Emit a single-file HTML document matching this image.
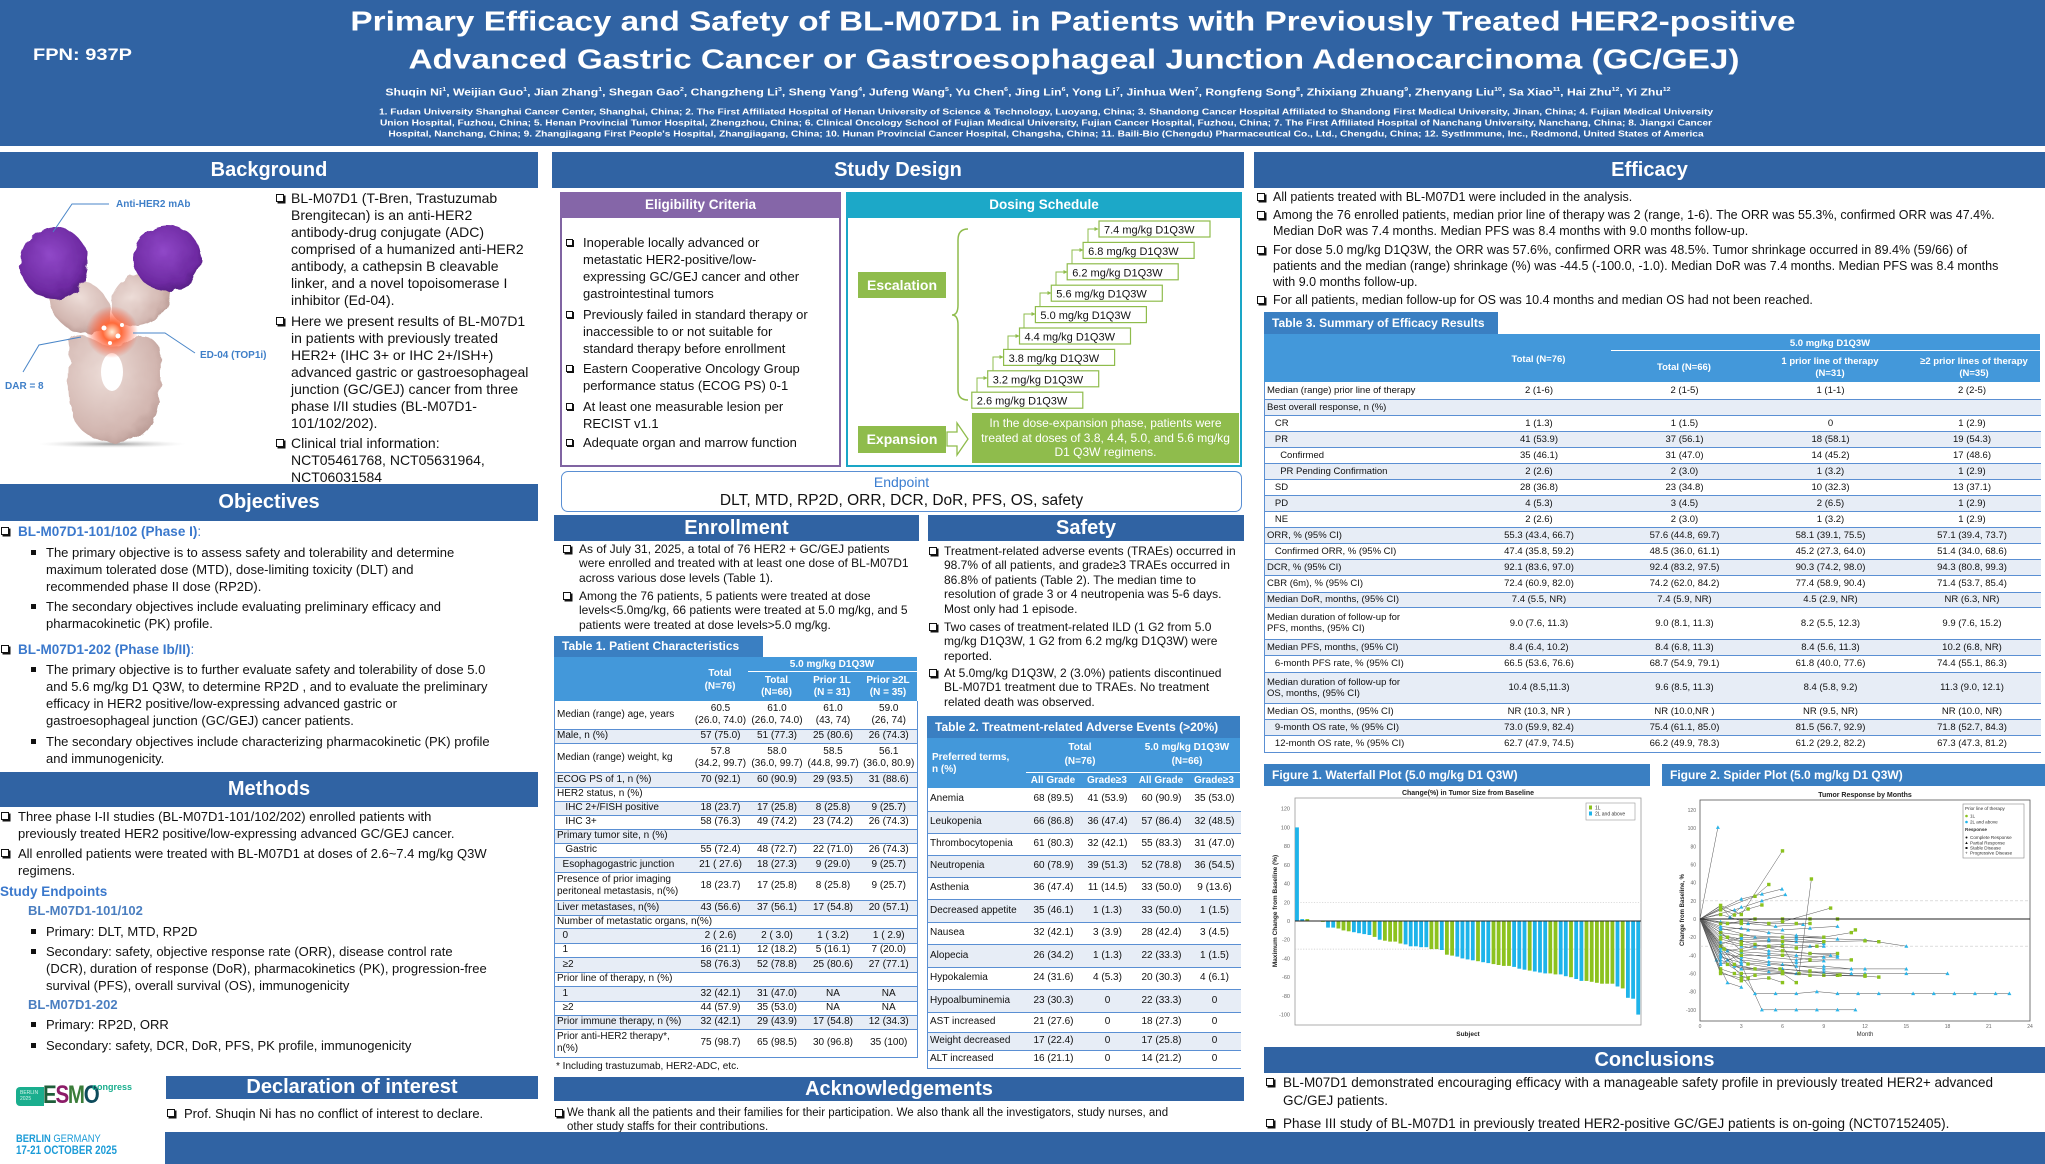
<!DOCTYPE html>
<html><head><meta charset="utf-8">
<style>
*{box-sizing:border-box}
body{margin:0;width:2045px;height:1164px;position:relative;overflow:hidden;background:#fff;font-family:"Liberation Sans",Arial,sans-serif;color:#111}
.a{position:absolute;white-space:nowrap}
.bar{position:absolute;background:#3063A3;color:#fff;font-weight:bold;font-size:20px;text-align:center;white-space:nowrap}
.bx{position:absolute;width:8px;height:8px;border:1.3px solid #111;box-shadow:1.5px 1.5px 0 #111;background:#fff}
.sq{position:absolute;width:5px;height:5px;background:#111}
.tab{position:absolute;background:#3A7FC2;color:#fff;font-weight:bold;font-size:12px;white-space:nowrap;padding-left:8px}
.th{position:absolute;background:#4398DA}
.hc{position:absolute;color:#fff;font-weight:bold;text-align:center;white-space:nowrap}
table{position:absolute;border-collapse:collapse;table-layout:fixed}
td{padding:0 2px;white-space:nowrap;border-bottom:1px solid #5A8FD3;vertical-align:middle}
tr.l td{background:#E7EDF6}
td.c{text-align:center}
.t1 td,.t2 td{font-size:10px;line-height:12px}
.t3 td{font-size:9.5px;line-height:11px}
.blue{color:#3A78CC;font-weight:bold}
.sy{transform:scaleY(0.84);transform-origin:50% 50%}
</style></head><body>

<!-- HEADER -->
<div class="a" style="left:0;top:0;width:2045px;height:146px;background:#3063A3"></div>
<div class="a sy" style="left:33px;top:44px;font-size:20px;line-height:22px;font-weight:bold;color:#fff">FPN: 937P</div>
<div class="a sy" style="left:173px;width:1800px;top:4px;line-height:36px;font-size:33.3px;font-weight:bold;color:#fff;text-align:center">Primary Efficacy and Safety of BL-M07D1 in Patients with Previously Treated HER2-positive</div>
<div class="a sy" style="left:174px;width:1800px;top:42px;line-height:36px;font-size:33.3px;font-weight:bold;color:#fff;text-align:center">Advanced Gastric Cancer or Gastroesophageal Junction Adenocarcinoma (GC/GEJ)</div>
<div class="a sy" style="left:128px;width:1800px;top:83px;line-height:14px;font-size:12.2px;font-weight:bold;color:#fff;text-align:center">Shuqin Ni<sup style="font-size:7px">1</sup>, Weijian Guo<sup style="font-size:7px">1</sup>, Jian Zhang<sup style="font-size:7px">1</sup>, Shegan Gao<sup style="font-size:7px">2</sup>, Changzheng Li<sup style="font-size:7px">3</sup>, Sheng Yang<sup style="font-size:7px">4</sup>, Jufeng Wang<sup style="font-size:7px">5</sup>, Yu Chen<sup style="font-size:7px">6</sup>, Jing Lin<sup style="font-size:7px">6</sup>, Yong Li<sup style="font-size:7px">7</sup>, Jinhua Wen<sup style="font-size:7px">7</sup>, Rongfeng Song<sup style="font-size:7px">8</sup>, Zhixiang Zhuang<sup style="font-size:7px">9</sup>, Zhenyang Liu<sup style="font-size:7px">10</sup>, Sa Xiao<sup style="font-size:7px">11</sup>, Hai Zhu<sup style="font-size:7px">12</sup>, Yi Zhu<sup style="font-size:7px">12</sup></div>
<div class="a sy" style="left:146px;width:1800px;top:103.5px;line-height:13px;font-size:10.2px;font-weight:bold;color:#fff;text-align:center">1. Fudan University Shanghai Cancer Center, Shanghai, China; 2. The First Affiliated Hospital of Henan University of Science &amp; Technology, Luoyang, China; 3. Shandong Cancer Hospital Affiliated to Shandong First Medical University, Jinan, China; 4. Fujian Medical University<br>Union Hospital, Fuzhou, China; 5. Henan Provincial Tumor Hospital, Zhengzhou, China; 6. Clinical Oncology School of Fujian Medical University, Fujian Cancer Hospital, Fuzhou, China; 7. The First Affiliated Hospital of Nanchang University, Nanchang, China; 8. Jiangxi Cancer<br>Hospital, Nanchang, China; 9. Zhangjiagang First People's Hospital, Zhangjiagang, China; 10. Hunan Provincial Cancer Hospital, Changsha, China; 11. Baili-Bio (Chengdu) Pharmaceutical Co., Ltd., Chengdu, China; 12. SystImmune, Inc., Redmond, United States of America</div>

<!-- LEFT COLUMN -->
<div class="bar" style="left:0;top:152px;width:538px;height:36px;line-height:36px">Background</div>

<svg class="a" style="left:0;top:190px" width="272" height="262" viewBox="0 190 272 262">
<defs>
<filter id="rough" x="-20%" y="-20%" width="140%" height="140%"><feTurbulence type="fractalNoise" baseFrequency="0.09" numOctaves="2" seed="4"/><feDisplacementMap in="SourceGraphic" scale="7"/></filter>
<radialGradient id="pur" cx="0.45" cy="0.4" r="0.7"><stop offset="0" stop-color="#9048C8"/><stop offset="0.7" stop-color="#6E2AA2"/><stop offset="1" stop-color="#461670"/></radialGradient>
<radialGradient id="pnk" cx="0.4" cy="0.35" r="0.8"><stop offset="0" stop-color="#EDDDD8"/><stop offset="0.7" stop-color="#D2B6B0"/><stop offset="1" stop-color="#A98882"/></radialGradient>
<radialGradient id="glow"><stop offset="0" stop-color="#FFF0D8"/><stop offset="0.35" stop-color="#FF6A3A"/><stop offset="1" stop-color="#FF4A2A" stop-opacity="0"/></radialGradient>
<radialGradient id="shd"><stop offset="0" stop-color="#999"/><stop offset="1" stop-color="#ddd" stop-opacity="0"/></radialGradient>
</defs>
<ellipse cx="112" cy="444" rx="74" ry="4" fill="url(#shd)"/>
<g filter="url(#rough)">
<path d="M70,348 C64,328 90,336 100,343 C108,348 118,348 126,342 C140,333 162,334 160,360 C162,398 158,424 140,436 C120,446 98,444 84,432 C68,420 66,390 70,348 Z" fill="url(#pnk)"/>
<ellipse cx="80" cy="306" rx="33" ry="25" transform="rotate(35 80 306)" fill="url(#pnk)"/>
<ellipse cx="140" cy="299" rx="31" ry="25" transform="rotate(-35 140 299)" fill="url(#pnk)"/>
<ellipse cx="54" cy="263" rx="34" ry="36" fill="url(#pur)"/>
<ellipse cx="167" cy="258" rx="34" ry="33" fill="url(#pur)"/>
</g>
<ellipse cx="112" cy="372" rx="11" ry="19" fill="#fff"/>
<circle cx="112" cy="332" r="26" fill="url(#glow)"/>
<circle cx="104" cy="328" r="2.5" fill="#fff"/><circle cx="118" cy="336" r="2.5" fill="#fff"/><circle cx="110" cy="343" r="2" fill="#fff"/><circle cx="122" cy="325" r="2" fill="#fff"/>
<g stroke="#4A86C8" stroke-width="1" fill="none">
<polyline points="109,204 72,204 53,232"/>
<polyline points="133,333 165,333 195,353"/>
<polyline points="23,372 39,345 81,337"/>
</g>
<g font-family="Liberation Sans, Arial, sans-serif" font-weight="bold" font-size="10" fill="#3F7FC8">
<text x="116" y="207">Anti-HER2 mAb</text>
<text x="200" y="358">ED-04 (TOP1i)</text>
<text x="5" y="389">DAR = 8</text>
</g>
</svg>

<i class="bx" style="left:276px;top:194px"></i>
<div class="a" style="left:291px;top:189.5px;font-size:14px;line-height:17px">BL-M07D1 (T-Bren, Trastuzumab<br>Brengitecan) is an anti-HER2<br>antibody-drug conjugate (ADC)<br>comprised of a humanized anti-HER2<br>antibody, a cathepsin B cleavable<br>linker, and a novel topoisomerase I<br>inhibitor (Ed-04).</div>
<i class="bx" style="left:276px;top:317px"></i>
<div class="a" style="left:291px;top:312.5px;font-size:14px;line-height:17px">Here we present results of BL-M07D1<br>in patients with previously treated<br>HER2+ (IHC 3+ or IHC 2+/ISH+)<br>advanced gastric or gastroesophageal<br>junction (GC/GEJ) cancer from three<br>phase I/II studies (BL-M07D1-<br>101/102/202).</div>
<i class="bx" style="left:276px;top:439px"></i>
<div class="a" style="left:291px;top:434.5px;font-size:14px;line-height:17px">Clinical trial information:<br>NCT05461768, NCT05631964,<br>NCT06031584</div>

<div class="bar" style="left:0;top:484px;width:538px;height:37px;line-height:37px">Objectives</div>
<i class="bx" style="left:1px;top:527px"></i>
<div class="a blue" style="left:18px;top:522.5px;font-size:13.5px;line-height:17px">BL-M07D1-101/102 (Phase I)<span style="font-weight:normal">:</span></div>
<i class="sq" style="left:31px;top:549.5px"></i>
<div class="a" style="left:46px;top:543.5px;font-size:13px;line-height:17px">The primary objective is to assess safety and tolerability and determine<br>maximum tolerated dose (MTD), dose-limiting toxicity (DLT) and<br>recommended phase II dose (RP2D).</div>
<i class="sq" style="left:31px;top:603.5px"></i>
<div class="a" style="left:46px;top:597.5px;font-size:13px;line-height:17px">The secondary objectives include evaluating preliminary efficacy and<br>pharmacokinetic (PK) profile.</div>
<i class="bx" style="left:1px;top:645px"></i>
<div class="a blue" style="left:18px;top:640.5px;font-size:13.5px;line-height:17px">BL-M07D1-202 (Phase Ib/II)<span style="font-weight:normal">:</span></div>
<i class="sq" style="left:31px;top:666.5px"></i>
<div class="a" style="left:46px;top:660.5px;font-size:13px;line-height:17px">The primary objective is to further evaluate safety and tolerability of dose 5.0<br>and 5.6 mg/kg D1 Q3W, to determine RP2D , and to evaluate the preliminary<br>efficacy in HER2 positive/low-expressing advanced gastric or<br>gastroesophageal junction (GC/GEJ) cancer patients.</div>
<i class="sq" style="left:31px;top:738.5px"></i>
<div class="a" style="left:46px;top:732.5px;font-size:13px;line-height:17px">The secondary objectives include characterizing pharmacokinetic (PK) profile<br>and immunogenicity.</div>

<div class="bar" style="left:0;top:772px;width:538px;height:35px;line-height:35px">Methods</div>
<i class="bx" style="left:1px;top:812px"></i>
<div class="a" style="left:18px;top:807.5px;font-size:13px;line-height:17px">Three phase I-II studies (BL-M07D1-101/102/202) enrolled patients with<br>previously treated HER2 positive/low-expressing advanced GC/GEJ cancer.</div>
<i class="bx" style="left:1px;top:849px"></i>
<div class="a" style="left:18px;top:844.5px;font-size:13px;line-height:17px">All enrolled patients were treated with BL-M07D1 at doses of 2.6~7.4 mg/kg Q3W<br>regimens.</div>
<div class="a blue" style="left:0;top:882.5px;font-size:13.5px;line-height:17px">Study Endpoints</div>
<div class="a" style="left:28px;top:901.5px;font-size:13px;line-height:17px;font-weight:bold;color:#4A7EC0">BL-M07D1-101/102</div>
<i class="sq" style="left:31px;top:928.5px"></i>
<div class="a" style="left:46px;top:922.5px;font-size:13px;line-height:17px">Primary: DLT, MTD, RP2D</div>
<i class="sq" style="left:31px;top:948.5px"></i>
<div class="a" style="left:46px;top:942.5px;font-size:13px;line-height:17px">Secondary: safety, objective response rate (ORR), disease control rate<br>(DCR), duration of response (DoR), pharmacokinetics (PK), progression-free<br>survival (PFS), overall survival (OS), immunogenicity</div>
<div class="a" style="left:28px;top:995.5px;font-size:13px;line-height:17px;font-weight:bold;color:#4A7EC0">BL-M07D1-202</div>
<i class="sq" style="left:31px;top:1021.5px"></i>
<div class="a" style="left:46px;top:1015.5px;font-size:13px;line-height:17px">Primary: RP2D, ORR</div>
<i class="sq" style="left:31px;top:1042.5px"></i>
<div class="a" style="left:46px;top:1036.5px;font-size:13px;line-height:17px">Secondary: safety, DCR, DoR, PFS, PK profile, immunogenicity</div>

<!-- ESMO logo -->
<div class="a" style="left:16px;top:1087px;width:28px;height:19px;background:#1AAE8E;border-radius:4px 0 0 4px;color:#d8f4ec;font-size:5px;line-height:6px;padding:3px 0 0 4px">BERLIN<br>2025</div>
<div class="a" style="left:43px;top:1082px;font-size:25px;line-height:26px;font-weight:bold;letter-spacing:-1.5px;transform:scaleX(0.82);transform-origin:0 0"><span style="color:#1E5E3A">E</span><span style="color:#8C1C68">S</span><span style="color:#3B7D3A">M</span><span style="color:#0D4B5B">O</span></div>
<div class="a" style="left:92px;top:1082px;font-size:9px;line-height:10px;font-weight:bold;color:#1AAE8E">congress</div>
<div class="a" style="left:16px;top:1133px;font-size:11px;line-height:12px;color:#1B9BD7;transform:scaleX(0.85);transform-origin:0 0"><b>BERLIN</b> GERMANY</div>
<div class="a" style="left:16px;top:1145px;font-size:11.5px;line-height:12px;color:#1B9BD7;font-weight:bold;transform:scaleX(0.85);transform-origin:0 0">17-21 OCTOBER 2025</div>

<div class="bar" style="left:166px;top:1076px;width:372px;height:23px;line-height:23px">Declaration of interest</div>
<i class="bx" style="left:167px;top:1109px"></i>
<div class="a" style="left:184px;top:1104.5px;font-size:13px;line-height:17px">Prof. Shuqin Ni has no conflict of interest to declare.</div>

<!-- MIDDLE COLUMN -->
<div class="bar" style="left:552px;top:152px;width:692px;height:36px;line-height:36px">Study Design</div>
<div class="a" style="left:560px;top:192px;width:281px;height:275px;border:2px solid #8064A2"></div>
<div class="a" style="left:560px;top:192px;width:281px;height:26px;background:#8566A8;color:#fff;font-weight:bold;font-size:13.5px;line-height:26px;text-align:center">Eligibility Criteria</div>
<div class="a" style="left:846px;top:192px;width:396px;height:275px;border:2px solid #1AA6C6"></div>
<div class="a" style="left:846px;top:192px;width:396px;height:26px;background:#1CA8C8;color:#fff;font-weight:bold;font-size:13.5px;line-height:26px;text-align:center">Dosing Schedule</div>

<i class="bx" style="left:566px;top:238.5px;width:7px;height:7px;box-shadow:1px 1px 0 #111"></i>
<div class="a" style="left:583px;top:233.5px;font-size:13px;line-height:17px">Inoperable locally advanced or<br>metastatic HER2-positive/low-<br>expressing GC/GEJ cancer and other<br>gastrointestinal tumors</div>
<i class="bx" style="left:566px;top:310.5px;width:7px;height:7px;box-shadow:1px 1px 0 #111"></i>
<div class="a" style="left:583px;top:305.5px;font-size:13px;line-height:17px">Previously failed in standard therapy or<br>inaccessible to or not suitable for<br>standard therapy before enrollment</div>
<i class="bx" style="left:566px;top:364.5px;width:7px;height:7px;box-shadow:1px 1px 0 #111"></i>
<div class="a" style="left:583px;top:359.5px;font-size:13px;line-height:17px">Eastern Cooperative Oncology Group<br>performance status (ECOG PS) 0-1</div>
<i class="bx" style="left:566px;top:402.5px;width:7px;height:7px;box-shadow:1px 1px 0 #111"></i>
<div class="a" style="left:583px;top:397.5px;font-size:13px;line-height:17px">At least one measurable lesion per<br>RECIST v1.1</div>
<i class="bx" style="left:566px;top:438.5px;width:7px;height:7px;box-shadow:1px 1px 0 #111"></i>
<div class="a" style="left:583px;top:433.5px;font-size:13px;line-height:17px">Adequate organ and marrow function</div>

<div class="a" style="left:858px;top:272px;width:88px;height:26px;background:#8FBC4C;color:#fff;font-weight:bold;font-size:14px;line-height:26px;text-align:center">Escalation</div>
<div class="a" style="left:858px;top:426px;width:88px;height:27px;background:#8FBC4C;color:#fff;font-weight:bold;font-size:14px;line-height:27px;text-align:center">Expansion</div>
<div class="a" style="left:972px;top:413px;width:267px;height:50px;background:#8FBC4C;color:#fff;font-size:12px;line-height:14.5px;text-align:center;padding-top:3px">In the dose-expansion phase, patients were<br>treated at doses of 3.8, 4.4, 5.0, and 5.6 mg/kg<br>D1 Q3W regimens.</div>

<svg class="a" style="left:846px;top:192px" width="396" height="275" viewBox="846 192 396 275">
<defs><marker id="ar" markerWidth="4" markerHeight="4" refX="3.5" refY="2" orient="auto" markerUnits="userSpaceOnUse"><path d="M0,0 L4,2 L0,4Z" fill="#8FBC4C"/></marker></defs>
<path d="M968,229 Q958,229 958,240 L958,305 Q958,315 952,315 Q958,315 958,325 L958,390 Q958,400 968,400" fill="none" stroke="#8FBC4C" stroke-width="1.5"/>
<g fill="none" stroke="#8FBC4C" stroke-width="1">
<polyline points="1088,243 1088,229 1098,229" marker-end="url(#ar)"/>
<polyline points="1072,264 1072,250 1083,250" marker-end="url(#ar)"/>
<polyline points="1056,286 1056,272 1067,272" marker-end="url(#ar)"/>
<polyline points="1040,307 1040,293 1051,293" marker-end="url(#ar)"/>
<polyline points="1024,328 1024,314 1035,314" marker-end="url(#ar)"/>
<polyline points="1008,350 1008,336 1019,336" marker-end="url(#ar)"/>
<polyline points="993,371 993,357 1003,357" marker-end="url(#ar)"/>
<polyline points="977,392 977,378 987,378" marker-end="url(#ar)"/>
</g>
<g fill="#fff" stroke="#8FBC4C" stroke-width="1.2">
<rect x="1099" y="221" width="111" height="16"/>
<rect x="1083.1" y="242.4" width="111" height="16"/>
<rect x="1067.2" y="263.8" width="111" height="16"/>
<rect x="1051.3" y="285.2" width="111" height="16"/>
<rect x="1035.4" y="306.6" width="111" height="16"/>
<rect x="1019.5" y="328" width="111" height="16"/>
<rect x="1003.6" y="349.4" width="111" height="16"/>
<rect x="987.7" y="370.8" width="111" height="16"/>
<rect x="971.8" y="392.2" width="111" height="16"/>
</g>
<g font-family="Liberation Sans, Arial, sans-serif" font-size="11" fill="#111">
<text x="1104" y="233.5">7.4 mg/kg D1Q3W</text>
<text x="1088.1" y="254.9">6.8 mg/kg D1Q3W</text>
<text x="1072.2" y="276.3">6.2 mg/kg D1Q3W</text>
<text x="1056.3" y="297.7">5.6 mg/kg D1Q3W</text>
<text x="1040.4" y="319.1">5.0 mg/kg D1Q3W</text>
<text x="1024.5" y="340.5">4.4 mg/kg D1Q3W</text>
<text x="1008.6" y="361.9">3.8 mg/kg D1Q3W</text>
<text x="992.7" y="383.3">3.2 mg/kg D1Q3W</text>
<text x="976.8" y="404.7">2.6 mg/kg D1Q3W</text>
</g>
<path d="M947,432 L957,432 L957,423 L968,439 L957,455 L957,446 L947,446 Z" fill="#fff" stroke="#8FBC4C" stroke-width="1.3"/>
</svg>

<div class="a" style="left:561px;top:471px;width:681px;height:41px;border:1.5px solid #5A8FD3;border-radius:7px"></div>
<div class="a" style="left:561px;top:474px;width:681px;text-align:center;font-size:14px;line-height:16px;color:#3A7DD0">Endpoint</div>
<div class="a" style="left:561px;top:491.5px;width:681px;text-align:center;font-size:15.5px;line-height:18px">DLT, MTD, RP2D, ORR, DCR, DoR, PFS, OS, safety</div>

<div class="bar" style="left:554px;top:515px;width:365px;height:26px;line-height:26px">Enrollment</div>
<div class="bar" style="left:928px;top:515px;width:316px;height:26px;line-height:26px">Safety</div>

<i class="bx" style="left:563px;top:545px"></i>
<div class="a" style="left:579px;top:541.75px;font-size:12px;line-height:14.5px">As of July 31, 2025, a total of 76 HER2 + GC/GEJ patients<br>were enrolled and treated with at least one dose of BL-M07D1<br>across various dose levels (Table 1).</div>
<i class="bx" style="left:563px;top:592px"></i>
<div class="a" style="left:579px;top:588.75px;font-size:12px;line-height:14.5px">Among the 76 patients, 5 patients were treated at dose<br>levels&lt;5.0mg/kg, 66 patients were treated at 5.0 mg/kg, and 5<br>patients were treated at dose levels&gt;5.0 mg/kg.</div>

<i class="bx" style="left:929px;top:547px"></i>
<div class="a" style="left:944px;top:543.75px;font-size:12px;line-height:14.5px">Treatment-related adverse events (TRAEs) occurred in<br>98.7% of all patients, and grade≥3 TRAEs occurred in<br>86.8% of patients (Table 2). The median time to<br>resolution of grade 3 or 4 neutropenia was 5-6 days.<br>Most only had 1 episode.</div>
<i class="bx" style="left:929px;top:623px"></i>
<div class="a" style="left:944px;top:619.75px;font-size:12px;line-height:14.5px">Two cases of treatment-related ILD (1 G2 from 5.0<br>mg/kg D1Q3W, 1 G2 from 6.2 mg/kg D1Q3W) were<br>reported.</div>
<i class="bx" style="left:929px;top:669px"></i>
<div class="a" style="left:944px;top:665.75px;font-size:12px;line-height:14.5px">At 5.0mg/kg D1Q3W, 2 (3.0%) patients discontinued<br>BL-M07D1 treatment due to TRAEs. No treatment<br>related death was observed.</div>

<!-- TABLE 1 -->
<div class="tab" style="left:554px;top:636px;width:209px;height:21px;line-height:21px">Table 1. Patient Characteristics</div>
<div class="th" style="left:554px;top:657px;width:363px;height:44px"></div>
<div class="hc" style="left:690px;top:666.5px;width:60px;font-size:10px;line-height:13px">Total<br>(N=76)</div>
<div class="hc" style="left:752px;top:657.5px;width:160px;font-size:10px;line-height:13px">5.0 mg/kg D1Q3W</div>
<div class="a" style="left:748px;top:671px;width:169px;height:1px;background:#fff"></div>
<div class="hc" style="left:748px;top:675px;width:57px;font-size:10px;line-height:12px">Total<br>(N=66)</div>
<div class="hc" style="left:803px;top:675px;width:58px;font-size:10px;line-height:12px">Prior 1L<br>(N = 31)</div>
<div class="hc" style="left:859px;top:675px;width:58px;font-size:10px;line-height:12px">Prior ≥2L<br>(N = 35)</div>
<table class="t1" style="left:554px;top:701px;width:363px;border-left:1px solid #5A8FD3;border-right:1px solid #5A8FD3">
<colgroup><col style="width:138px"><col style="width:56px"><col style="width:57px"><col style="width:55px"><col style="width:57px"></colgroup>
<tr style="height:28px"><td>Median (range) age, years</td><td class="c">60.5<br>(26.0, 74.0)</td><td class="c">61.0<br>(26.0, 74.0)</td><td class="c">61.0<br>(43, 74)</td><td class="c">59.0<br>(26, 74)</td></tr>
<tr class="l" style="height:14px"><td>Male, n (%)</td><td class="c">57 (75.0)</td><td class="c">51 (77.3)</td><td class="c">25 (80.6)</td><td class="c">26 (74.3)</td></tr>
<tr style="height:29px"><td>Median (range) weight, kg</td><td class="c">57.8<br>(34.2, 99.7)</td><td class="c">58.0<br>(36.0, 99.7)</td><td class="c">58.5<br>(44.8, 99.7)</td><td class="c">56.1<br>(36.0, 80.9)</td></tr>
<tr class="l" style="height:15px"><td>ECOG PS of 1, n (%)</td><td class="c">70 (92.1)</td><td class="c">60 (90.9)</td><td class="c">29 (93.5)</td><td class="c">31 (88.6)</td></tr>
<tr style="height:14px"><td colspan="5">HER2 status, n (%)</td></tr>
<tr class="l" style="height:14px"><td>&nbsp;&nbsp;&nbsp;IHC 2+/FISH positive</td><td class="c">18 (23.7)</td><td class="c">17 (25.8)</td><td class="c">8 (25.8)</td><td class="c">9 (25.7)</td></tr>
<tr style="height:14px"><td>&nbsp;&nbsp;&nbsp;IHC 3+</td><td class="c">58 (76.3)</td><td class="c">49 (74.2)</td><td class="c">23 (74.2)</td><td class="c">26 (74.3)</td></tr>
<tr class="l" style="height:14px"><td colspan="5">Primary tumor site, n (%)</td></tr>
<tr style="height:14px"><td>&nbsp;&nbsp;&nbsp;Gastric</td><td class="c">55 (72.4)</td><td class="c">48 (72.7)</td><td class="c">22 (71.0)</td><td class="c">26 (74.3)</td></tr>
<tr class="l" style="height:15px"><td>&nbsp;&nbsp;Esophagogastric junction</td><td class="c">21 ( 27.6)</td><td class="c">18 (27.3)</td><td class="c">9 (29.0)</td><td class="c">9 (25.7)</td></tr>
<tr style="height:28px"><td>Presence of prior imaging<br>peritoneal metastasis, n(%)</td><td class="c">18 (23.7)</td><td class="c">17 (25.8)</td><td class="c">8 (25.8)</td><td class="c">9 (25.7)</td></tr>
<tr class="l" style="height:15px"><td>Liver metastases, n(%)</td><td class="c">43 (56.6)</td><td class="c">37 (56.1)</td><td class="c">17 (54.8)</td><td class="c">20 (57.1)</td></tr>
<tr style="height:13px"><td colspan="5">Number of metastatic organs, n(%)</td></tr>
<tr class="l" style="height:15px"><td>&nbsp;&nbsp;0</td><td class="c">2 ( 2.6)</td><td class="c">2 ( 3.0)</td><td class="c">1 ( 3.2)</td><td class="c">1 ( 2.9)</td></tr>
<tr style="height:14px"><td>&nbsp;&nbsp;1</td><td class="c">16 (21.1)</td><td class="c">12 (18.2)</td><td class="c">5 (16.1)</td><td class="c">7 (20.0)</td></tr>
<tr class="l" style="height:15px"><td>&nbsp;&nbsp;≥2</td><td class="c">58 (76.3)</td><td class="c">52 (78.8)</td><td class="c">25 (80.6)</td><td class="c">27 (77.1)</td></tr>
<tr style="height:14px"><td colspan="5">Prior line of therapy, n (%)</td></tr>
<tr class="l" style="height:15px"><td>&nbsp;&nbsp;1</td><td class="c">32 (42.1)</td><td class="c">31 (47.0)</td><td class="c">NA</td><td class="c">NA</td></tr>
<tr style="height:14px"><td>&nbsp;&nbsp;≥2</td><td class="c">44 (57.9)</td><td class="c">35 (53.0)</td><td class="c">NA</td><td class="c">NA</td></tr>
<tr class="l" style="height:14px"><td>Prior immune therapy, n (%)</td><td class="c">32 (42.1)</td><td class="c">29 (43.9)</td><td class="c">17 (54.8)</td><td class="c">12 (34.3)</td></tr>
<tr style="height:28px"><td>Prior anti-HER2 therapy*,<br>n(%)</td><td class="c">75 (98.7)</td><td class="c">65 (98.5)</td><td class="c">30 (96.8)</td><td class="c">35 (100)</td></tr>
</table>
<div class="a" style="left:556px;top:1061px;font-size:10px;line-height:12px">* Including trastuzumab, HER2-ADC, etc.</div>

<!-- TABLE 2 -->
<div class="tab" style="left:927px;top:716px;width:313px;height:22px;line-height:22px">Table 2. Treatment-related Adverse Events (&gt;20%)</div>
<div class="th" style="left:927px;top:738px;width:313px;height:50px"></div>
<div class="hc" style="left:932px;top:751.5px;font-size:10px;line-height:12.5px;text-align:left">Preferred terms,<br>n (%)</div>
<div class="hc" style="left:1026px;top:741px;width:108px;font-size:10px;line-height:14px">Total<br>(N=76)</div>
<div class="hc" style="left:1134px;top:741px;width:106px;font-size:10px;line-height:14px">5.0 mg/kg D1Q3W<br>(N=66)</div>
<div class="a" style="left:1026px;top:772px;width:214px;height:1px;background:#fff"></div>
<div class="hc" style="left:1026px;top:775px;width:54px;font-size:10px;line-height:12px">All Grade</div>
<div class="hc" style="left:1080px;top:775px;width:54px;font-size:10px;line-height:12px">Grade≥3</div>
<div class="hc" style="left:1134px;top:775px;width:54px;font-size:10px;line-height:12px">All Grade</div>
<div class="hc" style="left:1188px;top:775px;width:52px;font-size:10px;line-height:12px">Grade≥3</div>
<table class="t2" style="left:927px;top:788px;width:313px;border-left:1px solid #5A8FD3">
<colgroup><col style="width:99px"><col style="width:54px"><col style="width:54px"><col style="width:54px"><col style="width:52px"></colgroup>
<tr style="height:23px"><td>Anemia</td><td class="c">68 (89.5)</td><td class="c">41 (53.9)</td><td class="c">60 (90.9)</td><td class="c">35 (53.0)</td></tr>
<tr class="l" style="height:22px"><td>Leukopenia</td><td class="c">66 (86.8)</td><td class="c">36 (47.4)</td><td class="c">57 (86.4)</td><td class="c">32 (48.5)</td></tr>
<tr style="height:22px"><td>Thrombocytopenia</td><td class="c">61 (80.3)</td><td class="c">32 (42.1)</td><td class="c">55 (83.3)</td><td class="c">31 (47.0)</td></tr>
<tr class="l" style="height:22px"><td>Neutropenia</td><td class="c">60 (78.9)</td><td class="c">39 (51.3)</td><td class="c">52 (78.8)</td><td class="c">36 (54.5)</td></tr>
<tr style="height:22px"><td>Asthenia</td><td class="c">36 (47.4)</td><td class="c">11 (14.5)</td><td class="c">33 (50.0)</td><td class="c">9 (13.6)</td></tr>
<tr class="l" style="height:23px"><td>Decreased appetite</td><td class="c">35 (46.1)</td><td class="c">1 (1.3)</td><td class="c">33 (50.0)</td><td class="c">1 (1.5)</td></tr>
<tr style="height:22px"><td>Nausea</td><td class="c">32 (42.1)</td><td class="c">3 (3.9)</td><td class="c">28 (42.4)</td><td class="c">3 (4.5)</td></tr>
<tr class="l" style="height:23px"><td>Alopecia</td><td class="c">26 (34.2)</td><td class="c">1 (1.3)</td><td class="c">22 (33.3)</td><td class="c">1 (1.5)</td></tr>
<tr style="height:22px"><td>Hypokalemia</td><td class="c">24 (31.6)</td><td class="c">4 (5.3)</td><td class="c">20 (30.3)</td><td class="c">4 (6.1)</td></tr>
<tr class="l" style="height:23px"><td>Hypoalbuminemia</td><td class="c">23 (30.3)</td><td class="c">0</td><td class="c">22 (33.3)</td><td class="c">0</td></tr>
<tr style="height:20px"><td>AST increased</td><td class="c">21 (27.6)</td><td class="c">0</td><td class="c">18 (27.3)</td><td class="c">0</td></tr>
<tr class="l" style="height:18px"><td>Weight decreased</td><td class="c">17 (22.4)</td><td class="c">0</td><td class="c">17 (25.8)</td><td class="c">0</td></tr>
<tr style="height:18px"><td>ALT increased</td><td class="c">16 (21.1)</td><td class="c">0</td><td class="c">14 (21.2)</td><td class="c">0</td></tr>
</table>

<div class="bar" style="left:554px;top:1077px;width:690px;height:24px;line-height:24px">Acknowledgements</div>
<i class="bx" style="left:555px;top:1109px"></i>
<div class="a" style="left:567px;top:1106px;font-size:11.5px;line-height:14px">We thank all the patients and their families for their participation. We also thank all the investigators, study nurses, and<br>other study staffs for their contributions.</div>

<!-- RIGHT COLUMN -->
<div class="bar" style="left:1254px;top:152px;width:791px;height:36px;line-height:36px">Efficacy</div>
<i class="bx" style="left:1257px;top:193px"></i>
<div class="a" style="left:1273px;top:189px;font-size:12.5px;line-height:16px">All patients treated with BL-M07D1 were included in the analysis.</div>
<i class="bx" style="left:1257px;top:211px"></i>
<div class="a" style="left:1273px;top:207px;font-size:12.5px;line-height:16px">Among the 76 enrolled patients, median prior line of therapy was 2 (range, 1-6). The ORR was 55.3%, confirmed ORR was 47.4%.<br>Median DoR was 7.4 months. Median PFS was 8.4 months with 9.0 months follow-up.</div>
<i class="bx" style="left:1257px;top:246px"></i>
<div class="a" style="left:1273px;top:242px;font-size:12.5px;line-height:16px">For dose 5.0 mg/kg D1Q3W, the ORR was 57.6%, confirmed ORR was 48.5%. Tumor shrinkage occurred in 89.4% (59/66) of<br>patients and the median (range) shrinkage (%) was -44.5 (-100.0, -1.0). Median DoR was 7.4 months. Median PFS was 8.4 months<br>with 9.0 months follow-up.</div>
<i class="bx" style="left:1257px;top:296px"></i>
<div class="a" style="left:1273px;top:292px;font-size:12.5px;line-height:16px">For all patients, median follow-up for OS was 10.4 months and median OS had not been reached.</div>

<!-- TABLE 3 -->
<div class="tab" style="left:1264px;top:312px;width:234px;height:22px;line-height:22px">Table 3. Summary of Efficacy Results</div>
<div class="th" style="left:1264px;top:334px;width:776px;height:48px"></div>
<div class="hc" style="left:1466px;top:354px;width:145px;font-size:9.5px;line-height:12px">Total (N=76)</div>
<div class="hc" style="left:1611px;top:338px;width:438px;font-size:9.5px;line-height:12px">5.0 mg/kg D1Q3W</div>
<div class="a" style="left:1611px;top:350px;width:429px;height:1px;background:#fff"></div>
<div class="hc" style="left:1611px;top:362px;width:146px;font-size:9.5px;line-height:12px">Total (N=66)</div>
<div class="hc" style="left:1757px;top:356px;width:146px;font-size:9.5px;line-height:12px">1 prior line of therapy<br>(N=31)</div>
<div class="hc" style="left:1903px;top:356px;width:142px;font-size:9.5px;line-height:12px">≥2 prior lines of therapy<br>(N=35)</div>
<table class="t3" style="left:1264px;top:382px;width:776px;border-left:1px solid #5A8FD3">
<colgroup><col style="width:202px"><col style="width:145px"><col style="width:146px"><col style="width:146px"><col style="width:137px"></colgroup>
<tr style="height:17px"><td>Median (range) prior line of therapy</td><td class="c">2 (1-6)</td><td class="c">2 (1-5)</td><td class="c">1 (1-1)</td><td class="c">2 (2-5)</td></tr>
<tr class="l" style="height:16px"><td colspan="5">Best overall response, n (%)</td></tr>
<tr style="height:16px"><td>&nbsp;&nbsp;&nbsp;CR</td><td class="c">1 (1.3)</td><td class="c">1 (1.5)</td><td class="c">0</td><td class="c">1 (2.9)</td></tr>
<tr class="l" style="height:16px"><td>&nbsp;&nbsp;&nbsp;PR</td><td class="c">41 (53.9)</td><td class="c">37 (56.1)</td><td class="c">18 (58.1)</td><td class="c">19 (54.3)</td></tr>
<tr style="height:16px"><td>&nbsp;&nbsp;&nbsp;&nbsp;&nbsp;Confirmed</td><td class="c">35 (46.1)</td><td class="c">31 (47.0)</td><td class="c">14 (45.2)</td><td class="c">17 (48.6)</td></tr>
<tr class="l" style="height:16px"><td>&nbsp;&nbsp;&nbsp;&nbsp;&nbsp;PR Pending Confirmation</td><td class="c">2 (2.6)</td><td class="c">2 (3.0)</td><td class="c">1 (3.2)</td><td class="c">1 (2.9)</td></tr>
<tr style="height:16px"><td>&nbsp;&nbsp;&nbsp;SD</td><td class="c">28 (36.8)</td><td class="c">23 (34.8)</td><td class="c">10 (32.3)</td><td class="c">13 (37.1)</td></tr>
<tr class="l" style="height:16px"><td>&nbsp;&nbsp;&nbsp;PD</td><td class="c">4 (5.3)</td><td class="c">3 (4.5)</td><td class="c">2 (6.5)</td><td class="c">1 (2.9)</td></tr>
<tr style="height:16px"><td>&nbsp;&nbsp;&nbsp;NE</td><td class="c">2 (2.6)</td><td class="c">2 (3.0)</td><td class="c">1 (3.2)</td><td class="c">1 (2.9)</td></tr>
<tr class="l" style="height:16px"><td>ORR, % (95% CI)</td><td class="c">55.3 (43.4, 66.7)</td><td class="c">57.6 (44.8, 69.7)</td><td class="c">58.1 (39.1, 75.5)</td><td class="c">57.1 (39.4, 73.7)</td></tr>
<tr style="height:16px"><td>&nbsp;&nbsp;&nbsp;Confirmed ORR, % (95% CI)</td><td class="c">47.4 (35.8, 59.2)</td><td class="c">48.5 (36.0, 61.1)</td><td class="c">45.2 (27.3, 64.0)</td><td class="c">51.4 (34.0, 68.6)</td></tr>
<tr class="l" style="height:16px"><td>DCR, % (95% CI)</td><td class="c">92.1 (83.6, 97.0)</td><td class="c">92.4 (83.2, 97.5)</td><td class="c">90.3 (74.2, 98.0)</td><td class="c">94.3 (80.8, 99.3)</td></tr>
<tr style="height:17px"><td>CBR (6m), % (95% CI)</td><td class="c">72.4 (60.9, 82.0)</td><td class="c">74.2 (62.0, 84.2)</td><td class="c">77.4 (58.9, 90.4)</td><td class="c">71.4 (53.7, 85.4)</td></tr>
<tr class="l" style="height:15px"><td>Median DoR, months, (95% CI)</td><td class="c">7.4 (5.5, NR)</td><td class="c">7.4 (5.9, NR)</td><td class="c">4.5 (2.9, NR)</td><td class="c">NR (6.3, NR)</td></tr>
<tr style="height:32px"><td>Median duration of follow-up for<br>PFS, months, (95% CI)</td><td class="c">9.0 (7.6, 11.3)</td><td class="c">9.0 (8.1, 11.3)</td><td class="c">8.2 (5.5, 12.3)</td><td class="c">9.9 (7.6, 15.2)</td></tr>
<tr class="l" style="height:16px"><td>Median PFS, months, (95% CI)</td><td class="c">8.4 (6.4, 10.2)</td><td class="c">8.4 (6.8, 11.3)</td><td class="c">8.4 (5.6, 11.3)</td><td class="c">10.2 (6.8, NR)</td></tr>
<tr style="height:17px"><td>&nbsp;&nbsp;&nbsp;6-month PFS rate, % (95% CI)</td><td class="c">66.5 (53.6, 76.6)</td><td class="c">68.7 (54.9, 79.1)</td><td class="c">61.8 (40.0, 77.6)</td><td class="c">74.4 (55.1, 86.3)</td></tr>
<tr class="l" style="height:31px"><td>Median duration of follow-up for<br>OS, months, (95% CI)</td><td class="c">10.4 (8.5,11.3)</td><td class="c">9.6 (8.5, 11.3)</td><td class="c">8.4 (5.8, 9.2)</td><td class="c">11.3 (9.0, 12.1)</td></tr>
<tr style="height:16px"><td>Median OS, months, (95% CI)</td><td class="c">NR (10.3, NR )</td><td class="c">NR (10.0,NR )</td><td class="c">NR (9.5, NR)</td><td class="c">NR (10.0, NR)</td></tr>
<tr class="l" style="height:16px"><td>&nbsp;&nbsp;&nbsp;9-month OS rate, % (95% CI)</td><td class="c">73.0 (59.9, 82.4)</td><td class="c">75.4 (61.1, 85.0)</td><td class="c">81.5 (56.7, 92.9)</td><td class="c">71.8 (52.7, 84.3)</td></tr>
<tr style="height:17px"><td>&nbsp;&nbsp;&nbsp;12-month OS rate, % (95% CI)</td><td class="c">62.7 (47.9, 74.5)</td><td class="c">66.2 (49.9, 78.3)</td><td class="c">61.2 (29.2, 82.2)</td><td class="c">67.3 (47.3, 81.2)</td></tr>
</table>

<!-- FIGURES -->
<div class="tab" style="left:1264px;top:764px;width:386px;height:22px;line-height:22px">Figure 1. Waterfall Plot (5.0 mg/kg D1 Q3W)</div>
<div class="tab" style="left:1662px;top:764px;width:383px;height:22px;line-height:22px">Figure 2. Spider Plot (5.0 mg/kg D1 Q3W)</div>

<svg class="a" style="left:1255px;top:786px" width="790" height="260" viewBox="1255 786 790 260" font-family="Liberation Sans, Arial, sans-serif">
<defs>
<marker id="mb" markerWidth="4" markerHeight="4" refX="2" refY="2" markerUnits="userSpaceOnUse"><path d="M2,0 L4,3.6 L0,3.6Z" fill="#29B5EA"/></marker>
<marker id="mg" markerWidth="4" markerHeight="4" refX="2" refY="2" markerUnits="userSpaceOnUse"><rect x="0.3" y="0.3" width="3.4" height="3.4" fill="#8CC21E"/></marker>
</defs>
<!-- Waterfall -->
<text x="1468" y="795" font-size="7" font-weight="bold" text-anchor="middle" fill="#222">Change(%) in Tumor Size from Baseline</text>
<rect x="1295" y="798" width="346" height="227" fill="#fff" stroke="#999" stroke-width="0.8"/>
<g stroke="#c8c8c8" stroke-width="0.7" stroke-dasharray="1.2,1.5"><line x1="1295" y1="902.3" x2="1641" y2="902.3"/><line x1="1295" y1="949.1" x2="1641" y2="949.1"/></g>
<g font-size="5.5" fill="#666" text-anchor="end">
<text x="1290" y="810.7">120</text><text x="1290" y="829.4">100</text><text x="1290" y="848.1">80</text><text x="1290" y="866.8">60</text><text x="1290" y="885.6">40</text><text x="1290" y="904.3">20</text><text x="1290" y="923">0</text><text x="1290" y="941.7">-20</text><text x="1290" y="960.4">-40</text><text x="1290" y="979.2">-60</text><text x="1290" y="997.9">-80</text><text x="1290" y="1016.6">-100</text>
</g>
<text transform="rotate(-90 1277 911)" x="1277" y="911" font-size="6.5" font-weight="bold" text-anchor="middle" fill="#222">Maximum Change from Baseline (%)</text>
<g transform="translate(0,921)">
<g fill="#1EB4EA">
<rect x="1295.1" y="-93.6" width="3.8" height="93.6"/><rect x="1300.3" y="-1.9" width="3.8" height="1.9"/>
<rect x="1326.1" y="0" width="3.8" height="6.6"/><rect x="1331.3" y="0" width="3.8" height="6.6"/>
<rect x="1352.0" y="0" width="3.8" height="11.2"/><rect x="1357.1" y="0" width="3.8" height="12.2"/><rect x="1362.3" y="0" width="3.8" height="13.1"/><rect x="1367.5" y="0" width="3.8" height="14.0"/>
<rect x="1377.8" y="0" width="3.8" height="18.7"/>
<rect x="1403.7" y="0" width="3.8" height="23.4"/><rect x="1408.8" y="0" width="3.8" height="25.3"/><rect x="1414.0" y="0" width="3.8" height="25.3"/><rect x="1419.2" y="0" width="3.8" height="26.2"/><rect x="1424.4" y="0" width="3.8" height="26.2"/>
<rect x="1439.9" y="0" width="3.8" height="29.0"/>
<rect x="1455.4" y="0" width="3.8" height="35.6"/><rect x="1460.5" y="0" width="3.8" height="37.4"/><rect x="1465.7" y="0" width="3.8" height="38.4"/><rect x="1470.9" y="0" width="3.8" height="39.3"/>
<rect x="1481.2" y="0" width="3.8" height="41.2"/><rect x="1486.4" y="0" width="3.8" height="42.1"/>
<rect x="1512.2" y="0" width="3.8" height="45.9"/><rect x="1517.4" y="0" width="3.8" height="47.7"/><rect x="1522.6" y="0" width="3.8" height="48.7"/>
<rect x="1532.9" y="0" width="3.8" height="50.5"/><rect x="1538.1" y="0" width="3.8" height="51.5"/><rect x="1543.3" y="0" width="3.8" height="52.4"/>
<rect x="1558.8" y="0" width="3.8" height="53.4"/><rect x="1563.9" y="0" width="3.8" height="55.2"/>
<rect x="1574.3" y="0" width="3.8" height="58.0"/><rect x="1579.5" y="0" width="3.8" height="59.9"/>
<rect x="1615.6" y="0" width="3.8" height="65.5"/>
<rect x="1626.0" y="0" width="3.8" height="76.8"/><rect x="1631.2" y="0" width="3.8" height="77.7"/><rect x="1636.3" y="0" width="3.8" height="93.6"/>
</g>
<g fill="#8CC21E">
<rect x="1305.4" y="-1.9" width="3.8" height="1.9"/>
<rect x="1320.9" y="0" width="3.8" height="0.9"/>
<rect x="1336.5" y="0" width="3.8" height="7.5"/><rect x="1341.6" y="0" width="3.8" height="9.4"/><rect x="1346.8" y="0" width="3.8" height="10.3"/>
<rect x="1372.7" y="0" width="3.8" height="15.9"/>
<rect x="1383.0" y="0" width="3.8" height="19.7"/><rect x="1388.2" y="0" width="3.8" height="20.6"/><rect x="1393.3" y="0" width="3.8" height="20.6"/><rect x="1398.5" y="0" width="3.8" height="22.5"/>
<rect x="1429.5" y="0" width="3.8" height="28.1"/><rect x="1434.7" y="0" width="3.8" height="28.1"/>
<rect x="1445.0" y="0" width="3.8" height="33.7"/><rect x="1450.2" y="0" width="3.8" height="34.6"/>
<rect x="1476.1" y="0" width="3.8" height="40.2"/>
<rect x="1491.6" y="0" width="3.8" height="43.1"/><rect x="1496.7" y="0" width="3.8" height="44.0"/><rect x="1501.9" y="0" width="3.8" height="44.9"/><rect x="1507.1" y="0" width="3.8" height="44.9"/>
<rect x="1527.8" y="0" width="3.8" height="49.6"/>
<rect x="1548.4" y="0" width="3.8" height="52.4"/><rect x="1553.6" y="0" width="3.8" height="53.4"/>
<rect x="1569.1" y="0" width="3.8" height="56.2"/>
<rect x="1584.6" y="0" width="3.8" height="59.9"/><rect x="1589.8" y="0" width="3.8" height="60.8"/><rect x="1595.0" y="0" width="3.8" height="61.8"/><rect x="1600.1" y="0" width="3.8" height="62.7"/><rect x="1605.3" y="0" width="3.8" height="62.7"/><rect x="1610.5" y="0" width="3.8" height="62.7"/>
<rect x="1620.8" y="0" width="3.8" height="67.4"/>
</g>
</g>
<line x1="1295" y1="921" x2="1641" y2="921" stroke="#222" stroke-width="1"/>
<rect x="1586" y="803" width="49" height="17" fill="#fff" stroke="#999" stroke-width="0.6"/>
<rect x="1589" y="805.5" width="3" height="4" fill="#8CC21E"/><text x="1595" y="809.3" font-size="5" fill="#333">1L</text>
<rect x="1589" y="811.5" width="3" height="4" fill="#1EB4EA"/><text x="1595" y="815.3" font-size="5" fill="#333">2L and above</text>
<text x="1468" y="1036" font-size="6.5" font-weight="bold" text-anchor="middle" fill="#222">Subject</text>

<!-- Spider -->
<text x="1865" y="797" font-size="7" font-weight="bold" text-anchor="middle" fill="#222">Tumor Response by Months</text>
<rect x="1700" y="800" width="330" height="221" fill="#fff" stroke="#555" stroke-width="0.8"/>
<g stroke="#c8c8c8" stroke-width="0.7" stroke-dasharray="3,2"><line x1="1700" y1="900.8" x2="2030" y2="900.8"/><line x1="1700" y1="946.2" x2="2030" y2="946.2"/></g>
<g font-size="5" fill="#666" text-anchor="end">
<text x="1696" y="812">120</text><text x="1696" y="830.2">100</text><text x="1696" y="848.4">80</text><text x="1696" y="866.5">60</text><text x="1696" y="884.7">40</text><text x="1696" y="902.8">20</text><text x="1696" y="921">0</text><text x="1696" y="939.2">-20</text><text x="1696" y="957.3">-40</text><text x="1696" y="975.5">-60</text><text x="1696" y="993.6">-80</text><text x="1696" y="1011.8">-100</text>
</g>
<g font-size="5" fill="#666" text-anchor="middle">
<text x="1700" y="1028">0</text><text x="1741.3" y="1028">3</text><text x="1782.5" y="1028">6</text><text x="1823.8" y="1028">9</text><text x="1865" y="1028">12</text><text x="1906.3" y="1028">15</text><text x="1947.5" y="1028">18</text><text x="1988.8" y="1028">21</text><text x="2030" y="1028">24</text>
</g>
<text x="1865" y="1036" font-size="6" text-anchor="middle" fill="#333">Month</text>
<text transform="rotate(-90 1684 910)" x="1684" y="910" font-size="6" font-weight="bold" text-anchor="middle" fill="#222">Change from Baseline, %</text>
<g transform="translate(1700,919)" fill="none" stroke="#555" stroke-width="0.5">
<g marker-mid="url(#mb)" marker-end="url(#mb)">
<polyline points="0,0 17.9,-91.7"/>
<polyline points="0,0 34.4,-9.1 61.9,-18.2 85.3,-24.5"/>
<polyline points="0,0 20.6,27.2 41.3,45.4 61.9,90.8 75.6,90.8 96.3,90.8 116.9,90.8 137.5,90.8 155.4,90.8"/>
<polyline points="0,0 27.5,40.9 41.3,57.2 55,74.5 75.6,74.5 96.3,74.5 116.9,72.6 137.5,74.5 158.1,74.5 178.8,74.5 213.1,74.5 233.8,74.5 254.4,74.5 275,74.5 295.6,74.5 309.4,74.5"/>
<polyline points="0,0 20.6,36.3 41.3,49.9 82.5,49.9 123.8,54.5 165,54.5 206.3,54.5 247.5,54.5"/>
<polyline points="0,0 20.6,31.8 41.3,40.9 82.5,45.4 123.8,49.9 165,49.9 206.3,49.9"/>
<polyline points="0,0 20.6,9.1 55,18.2 96.3,18.2 137.5,20 165,20.9 206.3,27.2"/>
<polyline points="0,0 20.6,22.7 41.3,27.2 68.8,31.8 110,34.5 137.5,36.3"/>
<polyline points="0,0 20.6,40.9 41.3,49.9 68.8,52.7 96.3,54.5 123.8,52.7 151.3,54.5"/>
<polyline points="0,0 27.5,31.8 55,27.2 82.5,25.4 110,27.2 123.8,27.2"/>
<polyline points="0,0 20.6,25.4 41.3,18.2 68.8,20 96.3,22.7 123.8,24.5"/>
<polyline points="0,0 20.6,45.4 41.3,34.5 68.8,38.1 96.3,40.9 130.6,36.3"/>
<polyline points="0,0 20.6,10.9 41.3,9.1 68.8,13.6 96.3,16.3 123.8,18.2"/>
<polyline points="0,0 20.6,38.1 41.3,43.6 68.8,45.4 96.3,47.2 123.8,47.2 151.3,49.9"/>
<polyline points="0,0 20.6,7.3 48.1,10.9 82.5,10.9 110,9.1 137.5,7.3"/>
<polyline points="0,0 20.6,34.5 41.3,38.1 68.8,42.7 96.3,43.6 123.8,41.8"/>
<polyline points="0,0 20.6,2.7 48.1,4.5 75.6,7.3 103.1,5.4"/>
<polyline points="0,0 20.6,29.1 41.3,32.7 68.8,34.5 96.3,36.3 123.8,38.1 137.5,38.1"/>
<polyline points="0,0 20.6,16.3 41.3,20 68.8,21.8 96.3,20 123.8,22.7"/>
<polyline points="0,0 20.6,43.6 34.4,47.2 55,49.9 82.5,49.9"/>
<polyline points="0,0 16.5,40.9 27.5,63.6 41.3,68.1"/>
<polyline points="0,0 20.6,-13 30,-2 41.3,-12"/>
<polyline points="0,0 20.6,-10 41.3,-20 62,-25 82,-30"/>
</g>
<g marker-mid="url(#mg)" marker-end="url(#mg)">
<polyline points="0,0 20.6,-13.6 41.3,-4.5 82.5,-68.1"/>
<polyline points="0,0 20.6,-9.1 55,-22.7 68.8,-34.5"/>
<polyline points="0,0 20.6,13.6 41.3,31.8 82.5,27.2 99,54.5 111.4,-40"/>
<polyline points="0,0 20.6,4.5 41.3,4.5 82.5,2.7 130.6,-10.9"/>
<polyline points="0,0 27.5,45.4 41.3,54.5 82.5,54.5 123.8,56.3 165,57.2 178.8,58.1"/>
<polyline points="0,0 20.6,18.2 41.3,22.7 82.5,22.7 123.8,22.7 165,21.8 178.8,22.7"/>
<polyline points="0,0 20.6,27.2 41.3,36.3 82.5,36.3 110,40.9 151.3,40.9"/>
<polyline points="0,0 20.6,13.6 41.3,16.3 82.5,18.2 123.8,18.2 151.3,13.6 155.4,10.9"/>
<polyline points="0,0 27.5,4.5 55,0 82.5,0 110,0 137.5,0"/>
<polyline points="0,0 20.6,-4.5 41.3,1.8 68.8,4.5 96.3,4.5 110,4.5"/>
<polyline points="0,0 20.6,54.5 41.3,59 55,56.3 82.5,54.5 96.3,63.6"/>
<polyline points="0,0 20.6,49.9 34.4,54.5 48.1,59"/>
<polyline points="0,0 27.5,18.2 55,25.4 82.5,31.8 110,34.5 137.5,34.5"/>
<polyline points="0,0 20.6,20 41.3,25.4 68.8,27.2 96.3,29.1 116.9,27.2"/>
<polyline points="0,0 20.6,52.7 41.3,61.7 68.8,59 82.5,63.6"/>
<polyline points="0,0 34.4,45.4 55,49.9 82.5,52.7 110,56.3 137.5,56.3 165,56.3"/>
<polyline points="0,0 20.6,-11 34.4,-4 48.1,-10 61.9,-14"/>
<polyline points="0,0 24,30 48,45 80,50 110,52 140,56"/>
</g>
</g>
<line x1="1700" y1="919" x2="2030" y2="919" stroke="#222" stroke-width="1"/>
<rect x="1963" y="804" width="61" height="54" fill="#fff" stroke="#888" stroke-width="0.6"/>
<g font-size="4.6" fill="#333">
<text x="1965" y="810">Prior line of therapy</text>
<circle cx="1966.5" cy="816" r="1.3" fill="#8CC21E"/><text x="1970" y="817.6">1L</text>
<circle cx="1966.5" cy="822" r="1.3" fill="#1EB4EA"/><text x="1970" y="823.6">2L and above</text>
<text x="1965" y="831" font-weight="bold">Response</text>
<circle cx="1966.5" cy="837.5" r="1" fill="#111"/><text x="1970" y="839">Complete Response</text>
<path d="M1966.5,841.6 L1967.8,844 L1965.2,844Z" fill="#111"/><text x="1970" y="844.3">Partial Response</text>
<rect x="1965.5" y="847" width="2" height="2" fill="#111"/><text x="1970" y="849.3">Stable Disease</text>
<text x="1965" y="854.6">+</text><text x="1970" y="854.6">Progressive Disease</text>
</g>
</svg>

<div class="bar" style="left:1264px;top:1047px;width:781px;height:26px;line-height:26px">Conclusions</div>
<i class="bx" style="left:1266px;top:1078px;border-width:1.6px"></i>
<div class="a" style="left:1283px;top:1074px;font-size:13.5px;line-height:18px">BL-M07D1 demonstrated encouraging efficacy with a manageable safety profile in previously treated HER2+ advanced<br>GC/GEJ patients.</div>
<i class="bx" style="left:1266px;top:1119px;border-width:1.6px"></i>
<div class="a" style="left:1283px;top:1115px;font-size:13.5px;line-height:18px">Phase III study of BL-M07D1 in previously treated HER2-positive GC/GEJ patients is on-going (NCT07152405).</div>

<!-- BOTTOM BAR -->
<div class="a" style="left:165px;top:1132px;width:1880px;height:32px;background:#3063A3"></div>
</body></html>
